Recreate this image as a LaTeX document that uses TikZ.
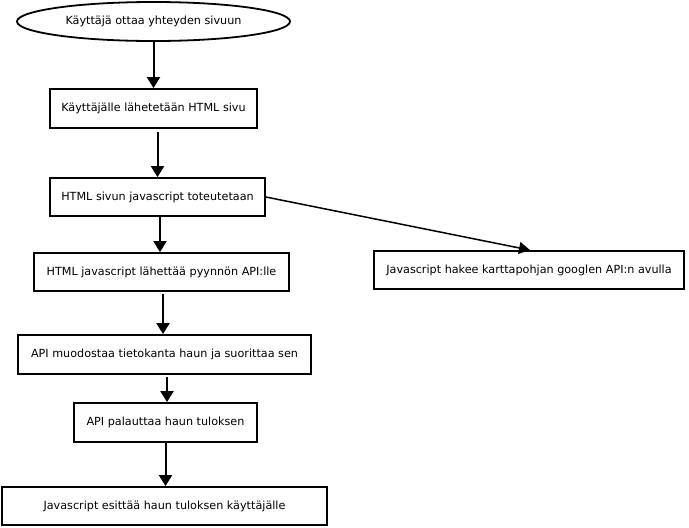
\documentclass[tikz,border=0pt]{standalone}
\usepackage{fontspec}
\setmainfont{DejaVu Sans}
\usetikzlibrary{shapes.geometric,arrows.meta}
\begin{document}
\begin{tikzpicture}[x=1pt,y=-1pt,
  every node/.style={font=\fontsize{11.2}{13}\selectfont, inner sep=0pt, align=center},
  boxnode/.style={draw, line width=1.8pt, rectangle},
  ellnode/.style={draw, line width=1.8pt, ellipse},
  arr/.style={line width=2pt, -{Triangle[length=11pt,width=13pt]}},
  darr/.style={line width=1.5pt, -{Triangle[length=11pt,width=12pt]}}]
\useasboundingbox (0,0) rectangle (689,528);
\node[ellnode, minimum width=273pt, minimum height=39pt] (e) at (153.5,21.5) {Käyttäjä ottaa yhteyden sivuun};
\node[boxnode, minimum width=207pt, minimum height=39pt] (b2) at (153.5,108.5) {Käyttäjälle lähetetään HTML sivu};
\node[boxnode, minimum width=215pt, minimum height=38pt] (b3) at (157.5,197) {HTML sivun javascript toteutetaan};
\node[boxnode, minimum width=255pt, minimum height=38pt] (b4) at (161.5,272) {HTML javascript lähettää pyynnön API:lle};
\node[boxnode, minimum width=293pt, minimum height=39pt] (b5) at (164.5,354.5) {API muodostaa tietokanta haun ja suorittaa sen};
\node[boxnode, minimum width=183pt, minimum height=39pt] (b6) at (165.5,422.5) {API palauttaa haun tuloksen};
\node[boxnode, minimum width=325pt, minimum height=38pt] (b7) at (164.5,506) {Javascript esittää haun tuloksen käyttäjälle};
\node[boxnode, minimum width=310pt, minimum height=38pt] (b8) at (529,270) {Javascript hakee karttapohjan googlen API:n avulla};
\draw[arr] (e.south) -- (e.south |- b2.north);
\draw[arr] (b2.south -| b3.north) ++(0,3) -- (b3.north);
\draw[arr] ([xshift=2.5pt]b3.south) -- ([xshift=2.5pt]b3.south |- b4.north);
\draw[arr] ([xshift=1.5pt]b4.south) ++(0,2) -- ([xshift=1.5pt]b4.south |- b5.north);
\draw[arr] ([xshift=2.5pt]b5.south) ++(0,2) -- ([xshift=2.5pt]b5.south |- b6.north);
\draw[arr] (b6.south) -- (b6.south |- b7.north);
\draw[darr] (b3.east) -- ([xshift=1pt]b8.north);
\end{tikzpicture}
\end{document}
